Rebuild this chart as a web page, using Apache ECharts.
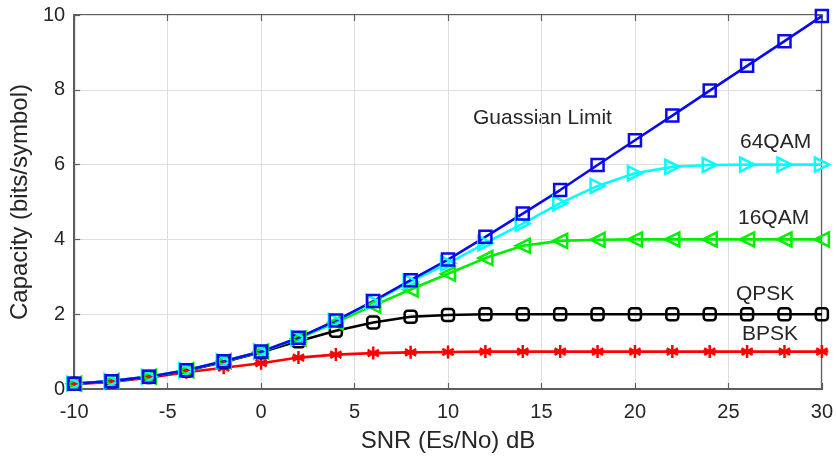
<!DOCTYPE html>
<html>
<head>
<meta charset="utf-8">
<script src="https://cdn.jsdelivr.net/npm/echarts@6/dist/echarts.min.js"></script>
<style>
  html, body { margin: 0; padding: 0; background: #fff; }
  #chart { width: 836px; height: 458px; }
</style>
</head>
<body>
<div id="chart"></div>
<script>
// capacity vs SNR
let snr = [-10, -8, -6, -4, -2, 0, 2, 4, 6, 8, 10, 12, 14, 16, 18, 20, 22, 24, 26, 28, 30];
let gauss = [0.14, 0.21, 0.33, 0.50, 0.74, 1.00, 1.37, 1.83, 2.35, 2.91, 3.46, 4.07, 4.69, 5.32, 5.99, 6.65, 7.31, 7.98, 8.64, 9.30, 9.97];
let qam64 = [0.14, 0.21, 0.33, 0.50, 0.74, 1.00, 1.36, 1.82, 2.33, 2.87, 3.36, 3.90, 4.42, 4.97, 5.43, 5.77, 5.94, 5.99, 6.00, 6.00, 6.00];
let qam16 = [0.14, 0.21, 0.33, 0.50, 0.74, 1.00, 1.35, 1.78, 2.23, 2.66, 3.08, 3.50, 3.83, 3.96, 3.99, 4.00, 4.00, 4.00, 4.00, 4.00, 4.00];
let qpsk = [0.14, 0.21, 0.32, 0.49, 0.72, 0.98, 1.28, 1.56, 1.78, 1.93, 1.98, 2.00, 2.00, 2.00, 2.00, 2.00, 2.00, 2.00, 2.00, 2.00, 2.00];
let bpsk = [0.13, 0.19, 0.30, 0.45, 0.57, 0.69, 0.84, 0.92, 0.96, 0.98, 0.99, 1.00, 1.00, 1.00, 1.00, 1.00, 1.00, 1.00, 1.00, 1.00, 1.00];
let xTicks = [-10, 30, 5];
let yTicks = [0, 10, 2];

let chartDom = document.getElementById("chart");
let chart = echarts.init(chartDom);

const font = "Liberation Sans, Arial, sans-serif";
const textColor = "#262626";
const boxColor = "#5e5e5e";

function pairs(ys) {
    return snr.map((x, i) => [x, ys[i]]);
}

function lineSeries(name, ys, color, symbol, size, rotate) {
    return {
        name: name,
        type: "line",
        data: pairs(ys),
        symbol: symbol,
        symbolSize: size,
        symbolRotate: rotate || 0,
        showAllSymbol: true,
        lineStyle: { color: color, width: 2.6 },
        itemStyle: { color: "rgba(0,0,0,0)", borderColor: color, borderWidth: 2.5 },
        emphasis: { disabled: true },
        animation: false
    };
}

const asterisk = "path://M0,-10 L0,10 M-8.66,-5 L8.66,5 M-8.66,5 L8.66,-5 M-10,0 L10,0";

let tickStyle = { show: true, inside: true, length: 6, lineStyle: { color: boxColor, width: 1.2 } };

let option = {
    backgroundColor: "#fff",
    grid: { left: 74, right: 14, top: 15, bottom: 69, show: true, borderColor: boxColor, borderWidth: 2 },
    xAxis: [{
        type: "value", min: xTicks[0], max: xTicks[1], interval: xTicks[2],
        name: "SNR (Es/No) dB", nameLocation: "middle", nameGap: 40,
        nameTextStyle: { fontFamily: font, fontSize: 24, color: textColor, letterSpacing: 1 },
        axisLine: { onZero: false, lineStyle: { color: boxColor, width: 2 } },
        axisTick: tickStyle,
        axisLabel: { fontFamily: font, fontSize: 20, color: textColor, margin: 13 },
        splitLine: { lineStyle: { color: "#dedede", width: 1 } }
    }, {
        type: "value", position: "top", min: xTicks[0], max: xTicks[1], interval: xTicks[2],
        axisLine: { show: false, onZero: false },
        axisTick: tickStyle,
        axisLabel: { show: false }, splitLine: { show: false }
    }],
    yAxis: [{
        type: "value", min: yTicks[0], max: yTicks[1], interval: yTicks[2],
        name: "Capacity (bits/symbol)", nameLocation: "middle", nameGap: 42,
        nameTextStyle: { fontFamily: font, fontSize: 24, color: textColor, letterSpacing: 0.6 },
        axisLine: { show: true, onZero: false, lineStyle: { color: boxColor, width: 2 } },
        axisTick: tickStyle,
        axisLabel: { fontFamily: font, fontSize: 20, color: textColor, margin: 9 },
        splitLine: { lineStyle: { color: "#dedede", width: 1 } }
    }, {
        type: "value", position: "right", min: yTicks[0], max: yTicks[1], interval: yTicks[2],
        axisLine: { show: false, onZero: false },
        axisTick: tickStyle,
        axisLabel: { show: false }, splitLine: { show: false }
    }],
    series: [
        lineSeries("BPSK", bpsk, "#ff0000", asterisk, 13),
        lineSeries("QPSK", qpsk, "#000000", "roundRect", 12),
        lineSeries("16QAM", qam16, "#00ee00", "triangle", 14, 90),
        lineSeries("64QAM", qam64, "#00ffff", "triangle", 14, -90),
        lineSeries("Guassian Limit", gauss, "#0a0aee", "rect", 12)
    ],
    graphic: [
        { type: "text", left: 473, top: 108, style: { text: "Guassian Limit", font: "21px " + font, fill: textColor } },
        { type: "text", left: 740, top: 132, style: { text: "64QAM", font: "21px " + font, fill: textColor } },
        { type: "text", left: 738, top: 208, style: { text: "16QAM", font: "21px " + font, fill: textColor } },
        { type: "text", left: 736, top: 284, style: { text: "QPSK", font: "21px " + font, fill: textColor } },
        { type: "text", left: 742, top: 324, style: { text: "BPSK", font: "21px " + font, fill: textColor } }
    ]
};

chart.setOption(option);
</script>
</body>
</html>
